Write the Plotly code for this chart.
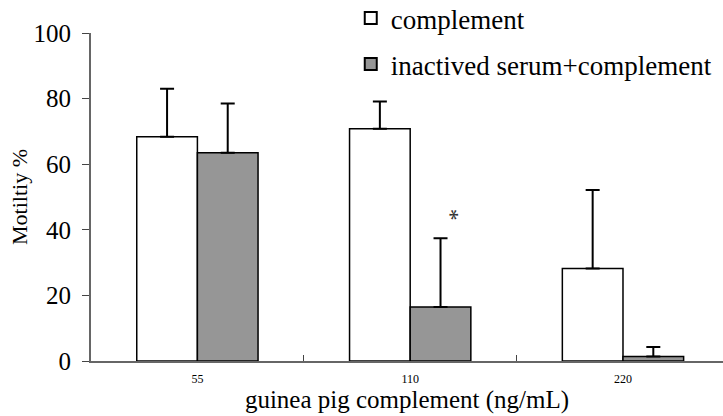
import plotly.graph_objects as go

categories = ["55", "110", "220"]
complement = [68.4, 70.8, 28.2]
complement_err = [14.6, 8.3, 23.9]
inactived = [63.5, 16.5, 1.4]
inactived_err = [15.0, 20.9, 2.9]
names = ["complement", "inactived serum+complement"]

FONT = "Liberation Serif"

fig = go.Figure()
fig.add_trace(go.Bar(
    x=categories, y=complement, name=names[0], legendgroup="a",
    marker=dict(color="white", line=dict(color="black", width=1.5)),
    error_y=dict(type="data", symmetric=False, array=complement_err,
                 arrayminus=[0, 0, 0], color="black", thickness=2, width=7),
))
fig.add_trace(go.Bar(
    x=categories, y=inactived, name=names[1], legendgroup="b",
    marker=dict(color="#969696", line=dict(color="black", width=1.5)),
    error_y=dict(type="data", symmetric=False, array=inactived_err,
                 arrayminus=[0, 0, 0], color="black", thickness=2, width=7),
))

fig.add_annotation(x=1, y=44.5, xref="x", yref="y", text="*", showarrow=False,
                   xshift=41, textangle=90, font=dict(family=FONT, size=24, color="#333"))

fig.update_layout(
    width=723, height=416,
    margin=dict(l=91, r=0, t=33, b=55, autoexpand=False),
    paper_bgcolor="white", plot_bgcolor="white",
    barmode="group", bargap=0.43, bargroupgap=0,
    font=dict(family=FONT, color="black"),
    showlegend=True,
    legend=dict(x=0.411, xanchor="left", yref="paper", y=1.119, yanchor="top",
                font=dict(family=FONT, size=27, color="black"),
                bgcolor="rgba(0,0,0,0)", tracegroupgap=8,
                itemsizing="constant"),
)
fig.update_xaxes(
    type="category",
    range=[-0.5, 2.47], showline=True, linecolor="#666", linewidth=2,
    ticks="inside", tickson="boundaries", ticklen=6, tickcolor="#444", tickwidth=1,
    ticklabelstandoff=6,
    tickfont=dict(family=FONT, size=12, color="black"), showgrid=False,
    title=dict(text="guinea pig complement (ng/mL)", font=dict(family=FONT, size=25), standoff=4),
    zeroline=False,
)
fig.update_yaxes(
    range=[0, 100], dtick=20, showline=True, linecolor="#666", linewidth=2,
    ticks="outside", ticklen=7, tickcolor="#444", tickwidth=1,
    ticklabelstandoff=6,
    tickfont=dict(family=FONT, size=25, color="black"), showgrid=False,
    title=dict(text="Motiltiy %", font=dict(family=FONT, size=22), standoff=0),
    zeroline=False,
)

fig.write_html("out.html")
